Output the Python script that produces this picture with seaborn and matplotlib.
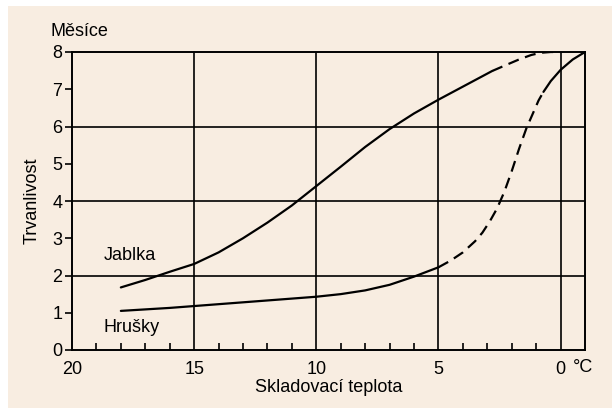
import numpy as np
import pandas as pd
import seaborn as sns
import matplotlib.pyplot as plt
from matplotlib.patches import Rectangle

# jablka (apples)
jab_x = [18, 17, 16, 15, 14, 13, 12, 11, 10, 9, 8, 7, 6, 5, 4, 3, 2.8]
jab_y = [1.68, 1.88, 2.1, 2.31, 2.62, 3.0, 3.42, 3.88, 4.4, 4.92, 5.45, 5.93, 6.35, 6.72, 7.07, 7.42, 7.49]
jab_dash_x = [2.8, 2.2, 1.7, 1.2, 0.8, 0.4, 0.0]
jab_dash_y = [7.49, 7.66, 7.8, 7.92, 7.98, 8.0, 8.0]

# hrušky (pears)
hru_x = [18, 17, 16, 15, 14, 13, 12, 11, 10, 9, 8, 7, 6, 5]
hru_y = [1.05, 1.09, 1.13, 1.18, 1.23, 1.28, 1.33, 1.38, 1.43, 1.5, 1.6, 1.75, 1.97, 2.22]
hru_dash_x = [5, 4.5, 4.0, 3.5, 3.2, 2.9, 2.6, 2.3, 2.0, 1.7, 1.4, 1.1, 0.9, 0.7]
hru_dash_y = [2.22, 2.4, 2.62, 2.92, 3.15, 3.45, 3.8, 4.25, 4.8, 5.4, 5.95, 6.4, 6.7, 6.93]
hru_end_x = [0.7, 0.4, 0.0, -0.5, -1.0]
hru_end_y = [6.93, 7.22, 7.52, 7.8, 8.0]

x_ticks = [20, 15, 10, 5, 0]
y_ticks = [0, 1, 2, 3, 4, 5, 6, 7, 8]

bg = '#f8ede1'
sns.set_style('white')
plt.rcParams['font.family'] = ['Liberation Sans', 'DejaVu Sans']
plt.rcParams['text.color'] = 'black'
plt.rcParams['xtick.color'] = 'black'
plt.rcParams['ytick.color'] = 'black'
plt.rcParams['axes.labelcolor'] = 'black'

fig = plt.figure(figsize=(6.12, 4.08), dpi=100, facecolor='white')
fig.patches.append(Rectangle((8 / 612, 0), 1, 1 - 6 / 408, transform=fig.transFigure,
                             facecolor=bg, edgecolor='none', zorder=-1))
ax = fig.add_axes([72 / 612, 58 / 408, 513 / 612, 298 / 408])
ax.set_facecolor(bg)

def seg(x, y, dashed=False):
    df = pd.DataFrame({'t': x, 'v': y})
    sns.lineplot(data=df, x='t', y='v', ax=ax, color='black', lw=1.6, sort=False,
                 linestyle=(0, (5, 3)) if dashed else '-')

seg(jab_x, jab_y)
seg(jab_dash_x, jab_dash_y, dashed=True)
seg(hru_x, hru_y)
seg(hru_dash_x, hru_dash_y, dashed=True)
seg(hru_end_x, hru_end_y)

ax.set_xlim(20, -1)
ax.set_ylim(0, 8)
ax.set_xticks(x_ticks)
ax.set_xticklabels([str(t) for t in x_ticks], fontsize=13)
ax.set_xticks(np.arange(19, -1, -1), minor=True)
ax.set_yticks(y_ticks)
ax.set_yticklabels([str(t) for t in y_ticks], fontsize=13)

for v in [15, 10, 5, 0]:
    ax.axvline(v, color='black', lw=1.2, zorder=1)
for v in [2, 4, 6]:
    ax.axhline(v, color='black', lw=1.2, zorder=1)

for s in ax.spines.values():
    s.set_color('black')
    s.set_linewidth(1.4)

ax.tick_params(axis='x', which='both', direction='in', length=5, width=1.2, pad=8,
               bottom=True)
ax.tick_params(axis='x', which='major', length=0)
ax.tick_params(axis='y', direction='out', length=5, width=1.2, pad=2, left=True)

ax.set_xlabel('Skladovací teplota', fontsize=13, labelpad=1)
ax.set_ylabel('Trvanlivost', fontsize=13, labelpad=8)
ax.text(18.7, 2.55, 'Jablka', fontsize=13, va='center')
ax.text(18.7, 0.6, 'Hrušky', fontsize=13, va='center')
fig.text(50 / 612, 1 - 31 / 408, 'Měsíce', fontsize=13, va='center')
fig.text(583 / 612, 1 - 367 / 408, '°C', fontsize=13, va='center', ha='center')

fig.savefig('out.png', dpi=100, facecolor=fig.get_facecolor())
